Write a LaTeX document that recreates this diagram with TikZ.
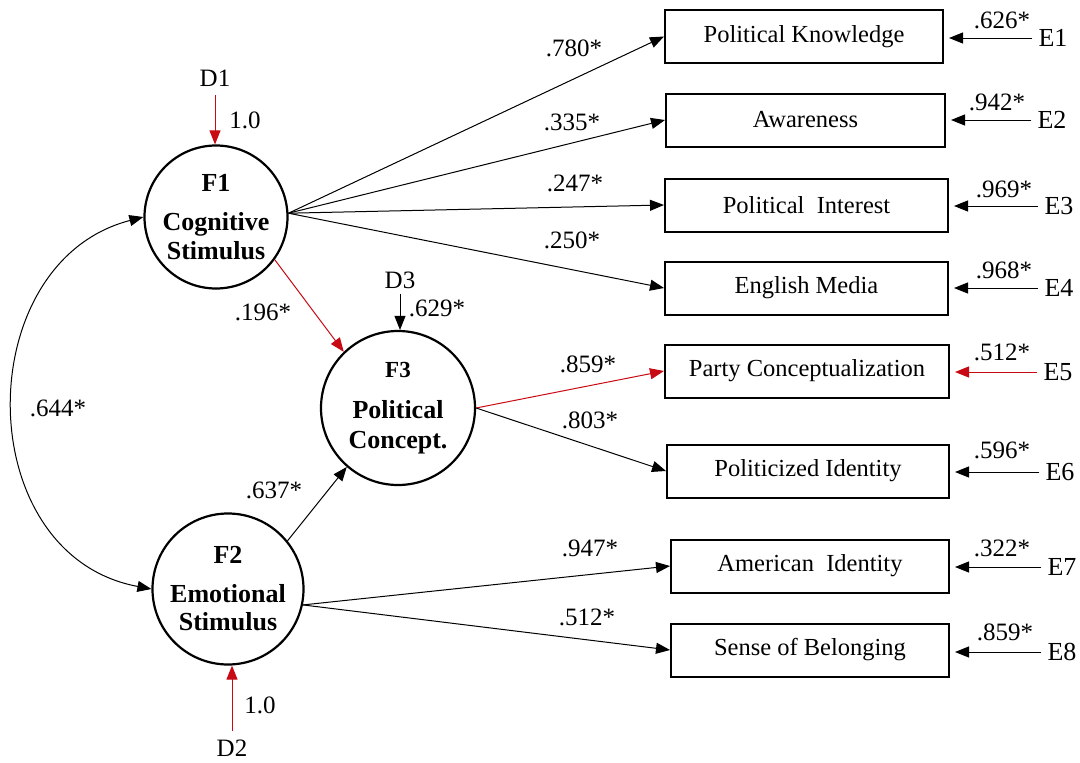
\documentclass[tikz,border=0pt]{standalone}
\usepackage{fontspec}
\setmainfont{Liberation Serif}
\usetikzlibrary{arrows.meta}
\definecolor{semred}{RGB}{200,10,20}
\tikzset{
  latent/.style={circle,draw,line width=2.2pt,inner sep=0pt,minimum size=#1,align=center,
    font=\fontsize{26}{30}\selectfont\bfseries},
  obs/.style={draw,line width=2pt,minimum width=280pt,minimum height=53pt,inner sep=0pt,
    font=\fontsize{24.5}{26}\selectfont},
  path/.style={line width=1pt,-{Triangle[length=14pt,width=11pt]}},
  redpath/.style={path,draw=semred,-{Triangle[length=14pt,width=11pt,fill=semred]}},
  coef/.style={font=\fontsize{25}{26}\selectfont,inner sep=0pt},
  errname/.style={font=\fontsize{26}{28}\selectfont,inner sep=0pt},
  dname/.style={font=\fontsize{25}{26}\selectfont,inner sep=0pt},
  errpath/.style={path,shorten >=5pt,shorten <=6pt},
}
\begin{document}
\begin{tikzpicture}[x=1pt,y=-1pt]
\useasboundingbox (0,0) rectangle (1080,763);

% latent factors
\node[latent=143pt] (F1) at (216,217) {\fontsize{26}{28}\selectfont F1\\[9pt]Cognitive\\[-1pt]Stimulus};
\node[latent=154pt] (F3) at (398,408) {\fontsize{23}{24}\selectfont F3\\[11pt]Political\\[0pt]Concept.};
\node[latent=151pt] (F2) at (228,589) {\fontsize{26}{28}\selectfont F2\\[9pt]Emotional\\[-2pt]Stimulus};

% observed variables
\node[obs,minimum width=278pt] (B1) at (804,36.5) {Political Knowledge};
\node[obs,minimum width=279pt] (B2) at (805.5,120) {Awareness};
\node[obs,minimum width=283pt] (B3) at (806.5,205) {Political\ \ Interest};
\node[obs,minimum width=283pt] (B4) at (806.5,288) {English Media};
\node[obs,minimum width=284pt] (B5) at (807,371) {Party Conceptualization};
\node[obs,minimum width=282pt] (B6) at (808,471) {Politicized Identity};
\node[obs,minimum width=278pt] (B7) at (810,566) {American\ \ Identity};
\node[obs,minimum width=278pt] (B8) at (810,650) {Sense of Belonging};

% disturbances
\node[dname] (D1) at (215,78) {D1};
\node[dname] (D3) at (400,280) {D3};
\node[dname] (D2) at (232,748) {D2};
\draw[redpath,shorten <=9pt] (D1.south) -- (D1.south |- F1.north);
\draw[path,shorten <=5pt] (D3.south) -- (D3.south |- F3.north);
\draw[redpath,shorten <=9pt] (D2.north) -- (D2.north |- F2.south);
\node[coef] (cD1) at (245,120) {1.0};
\node[coef] (cD3) at (437,308) {.629*};
\node[coef] (cD2) at (260,705) {1.0};

% errors
\node[errname] (E1) at (1053,38) {E1};
\node[errname] (E2) at (1052,120) {E2};
\node[errname] (E3) at (1059,206) {E3};
\node[errname] (E4) at (1059,288) {E4};
\node[errname] (E5) at (1058,372) {E5};
\node[errname] (E6) at (1060,472) {E6};
\node[errname] (E7) at (1062,567) {E7};
\node[errname] (E8) at (1062,652) {E8};
\draw[errpath] (E1.west) -- (E1.west -| B1.east);
\draw[errpath] (E2.west) -- (E2.west -| B2.east);
\draw[errpath] (E3.west) -- (E3.west -| B3.east);
\draw[errpath] (E4.west) -- (E4.west -| B4.east);
\draw[redpath,shorten >=5pt,shorten <=6pt] (E5.west) -- (E5.west -| B5.east);
\draw[errpath] (E6.west) -- (E6.west -| B6.east);
\draw[errpath] (E7.west) -- (E7.west -| B7.east);
\draw[errpath] (E8.west) -- (E8.west -| B8.east);
\node[coef] (cE1) at (1002,20) {.626*};
\node[coef] (cE2) at (997,102) {.942*};
\node[coef] (cE3) at (1004,189) {.969*};
\node[coef] (cE4) at (1004,270) {.968*};
\node[coef] (cE5) at (1002,352) {.512*};
\node[coef] (cE6) at (1002,450) {.596*};
\node[coef] (cE7) at (1002,548) {.322*};
\node[coef] (cE8) at (1005,632) {.859*};

% structural / measurement paths
\draw[path] (F1.3) -- (B1.west);
\draw[path] (F1.3) -- (B2.west);
\draw[path] (F1.3) -- (B3.west);
\draw[path] (F1.3) -- (B4.west);
\draw[redpath] (F1.-36) -- (F3.134);
\draw[redpath] (F3.east) -- (B5.west);
\draw[path] (F3.east) -- (B6.west);
\draw[path] (F2.39) -- (F3.229);
\draw[path] (F2.-12) -- (B7.west);
\draw[path] (F2.-12) -- (B8.west);
\draw[line width=1pt,{Triangle[length=14pt,width=11pt]}-{Triangle[length=14pt,width=11pt]}]
  (F1.west) .. controls (-31,262) and (-31,555) .. (F2.west);

\node[coef] (c1) at (574,48) {.780*};
\node[coef] (c2) at (572,122) {.335*};
\node[coef] (c3) at (575,183) {.247*};
\node[coef] (c4) at (572,240) {.250*};
\node[coef] (c5) at (263,312) {.196*};
\node[coef] (c6) at (588,364) {.859*};
\node[coef] (c7) at (590,420) {.803*};
\node[coef] (c8) at (274,490) {.637*};
\node[coef] (c9) at (590,548) {.947*};
\node[coef] (c10) at (587,617) {.512*};
\node[coef] (c11) at (58,408) {.644*};
\end{tikzpicture}
\end{document}
